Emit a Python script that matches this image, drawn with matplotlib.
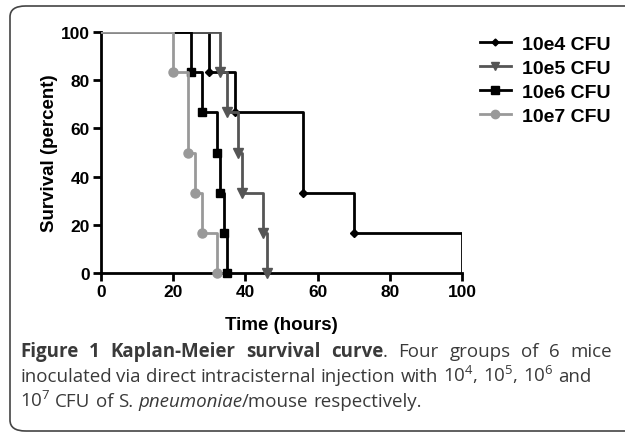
import matplotlib.pyplot as plt
from matplotlib.patches import FancyBboxPatch

plt.rcParams['mathtext.fontset'] = 'custom'
plt.rcParams['mathtext.rm'] = 'Open Sans'
plt.rcParams['mathtext.it'] = 'Open Sans:italic'
plt.rcParams['mathtext.bf'] = 'Open Sans:bold'

# survival steps (time in hours, percent surviving) for each inoculum
t_e4 = [0, 30, 37, 56, 70, 100]
s_e4 = [100, 83.3, 66.7, 33.3, 16.7, 0]
t_e5 = [0, 33, 35, 38, 39, 45, 46]
s_e5 = [100, 83.3, 66.7, 50, 33.3, 16.7, 0]
t_e6 = [0, 25, 28, 32, 33, 34, 35]
s_e6 = [100, 83.3, 66.7, 50, 33.3, 16.7, 0]
t_e7 = [0, 20, 24, 26, 28, 32]
s_e7 = [100, 83.3, 50, 33.3, 16.7, 0]

labels = ['10e4 CFU', '10e5 CFU', '10e6 CFU', '10e7 CFU']
colors = ['black', '#555555', 'black', '#999999']
markers = ['D', 'v', 's', 'o']
msizes = [4, 6.5, 6, 6.5]

W, H = 625, 435
fig = plt.figure(figsize=(6.25, 4.35), dpi=100)

# rounded frame round the whole figure
frame = FancyBboxPatch((10 / W, 3 / H), 640 / W, 425 / H,
                       boxstyle='round,pad=0,rounding_size=0.025',
                       transform=fig.transFigure, fill=False,
                       edgecolor='#444444', linewidth=1.2, clip_on=False)
fig.patches.append(frame)

ax = fig.add_axes([101 / W, 1 - 274 / H, 361 / W, 241 / H])

series = [(t_e4, s_e4), (t_e5, s_e5), (t_e6, s_e6), (t_e7, s_e7)]
for i in [3, 2, 1, 0]:
    t, s = series[i]
    ax.step(t, s, where='post', color=colors[i], lw=2, zorder=3 + i)
    # markers at the death events only (no marker where 10e4 ends at 100 h)
    mt, ms_ = t[1:], s[1:]
    if i == 0:
        mt, ms_ = mt[:-1], ms_[:-1]
    ax.plot(mt, ms_, ls='none', marker=markers[i], ms=msizes[i],
            color=colors[i], zorder=3 + i, clip_on=False)

ax.set_xlim(0, 100)
ax.set_ylim(0, 100)
ax.set_xticks([0, 20, 40, 60, 80, 100])
ax.set_yticks([0, 20, 40, 60, 80, 100])
for side in ['top', 'right']:
    ax.spines[side].set_visible(False)
for side in ['left', 'bottom']:
    ax.spines[side].set_linewidth(2)
ax.tick_params(direction='out', width=2, length=6, pad=2)
for lab in ax.get_xticklabels() + ax.get_yticklabels():
    lab.set_fontfamily('Liberation Sans')
    lab.set_fontweight('bold')
    lab.set_fontsize(12.5)
ax.set_xlabel('Time (hours)', fontfamily='Liberation Sans', fontweight='bold',
              fontsize=13.5, labelpad=12)
ax.set_ylabel('Survival (percent)', fontfamily='Liberation Sans',
              fontweight='bold', fontsize=13.5, labelpad=2)

handles = []
for i in range(4):
    h, = ax.plot([], [], color=colors[i], lw=2, marker=markers[i],
                 ms=msizes[i] - 0.5)
    handles.append(h)
fig.legend(handles, labels, loc='upper left',
           bbox_to_anchor=(462 / W, 1 - 19 / H), frameon=False,
           prop={'family': 'Liberation Sans', 'weight': 'bold', 'size': 14},
           handlelength=1.6, labelspacing=0.32, handletextpad=0.6)

# caption
cap_col = '#3a3a3a'
cap_size = 13.5
renderer = fig.canvas.get_renderer()


def caption_line(words, y, right=None, left=20):
    # words: list of tokens, each token a list of (text, weight, style)
    placed = []
    total = 0
    for tok in words:
        parts = []
        for s, wt, st in tok:
            tx = fig.text(0, 1 - y / H, s, fontfamily='Open Sans',
                          fontweight=wt, fontstyle=st, fontsize=cap_size,
                          color=cap_col, va='baseline')
            w = tx.get_window_extent(renderer).width
            parts.append((tx, w))
            total += w
        placed.append(parts)
    space = fig.text(0, 0, 'a a', fontfamily='Open Sans', fontsize=cap_size)
    sw = space.get_window_extent(renderer).width
    space.set_text('aa')
    sw -= space.get_window_extent(renderer).width
    space.remove()
    gap = sw
    if right is not None and len(placed) > 1:
        gap = (right - left - total) / (len(placed) - 1)
    x = left
    for parts in placed:
        for tx, w in parts:
            tx.set_x(x / W)
            x += w
        x += gap


B, N = 'bold', 'normal'
line1 = [[('Figure', B, N)], [('1', B, N)], [('Kaplan-Meier', B, N)],
         [('survival', B, N)], [('curve', B, N), ('.', N, N)],
         [('Four', N, N)], [('groups', N, N)], [('of', N, N)],
         [('6', N, N)], [('mice', N, N)]]
line2 = [[(w, N, N)] for w in
         ['inoculated', 'via', 'direct', 'intracisternal', 'injection',
          'with', '10$^4$,', '10$^5$,', '10$^6$', 'and']]
line3 = [[('10$^7$', N, N)], [('CFU', N, N)], [('of', N, N)],
         [('S.', N, N)], [('pneumoniae', N, 'italic'),
                          ('/mouse', N, N)],
         [('respectively.', N, N)]]
caption_line(line1, 357, right=612)
caption_line(line2, 382)
caption_line(line3, 407)

fig.savefig('out.png', dpi=100)
